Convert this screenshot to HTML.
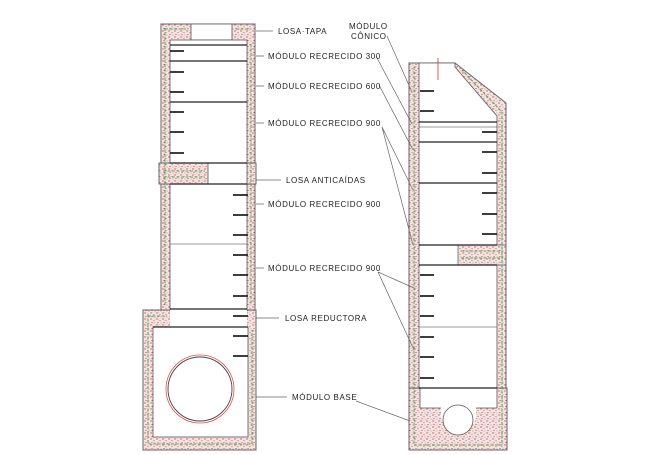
<!DOCTYPE html>
<html><head><meta charset="utf-8"><style>
html,body{margin:0;padding:0;background:#fff;}
svg{display:block;}
text{font-family:"Liberation Sans",sans-serif;font-size:8px;fill:#222;letter-spacing:0.6px;}
</style></head><body>
<svg width="648" height="455" viewBox="0 0 648 455" xmlns="http://www.w3.org/2000/svg">
<defs>
<pattern id="c" width="6" height="6" patternUnits="userSpaceOnUse">
<rect width="6" height="6" fill="#f5e6e6"/>
<circle cx="1" cy="1" r="0.7" fill="#d04848"/>
<circle cx="4" cy="2.5" r="0.6" fill="#e06060"/>
<circle cx="2" cy="4.5" r="0.6" fill="#c84848"/>
<circle cx="5" cy="5" r="0.5" fill="#888"/>
<circle cx="3" cy="0.5" r="0.4" fill="#aaa"/>
</pattern>
</defs>
<g stroke="#666" stroke-width="1" fill="url(#c)">
<rect x="161" y="24" width="94" height="287"/>
<rect x="143" y="310" width="113" height="140"/>
<rect x="159" y="163" width="97" height="21"/>
</g>
<g fill="#fff" stroke="#555" stroke-width="0.8">
<rect x="191" y="24" width="41" height="16"/>
<rect x="170" y="40" width="77" height="123"/>
<rect x="208" y="163" width="39" height="21"/>
<rect x="170" y="184" width="77" height="127"/>
<rect x="170" y="310" width="77" height="17" stroke="none"/>
<rect x="153" y="327" width="95" height="110"/>
</g>
<g stroke="#2a9a2a" stroke-width="0.8" stroke-dasharray="3,1.5" fill="none">
<path d="M165 28V305M251 44V305M148 314V444H252V330M148 316H167M163 171H205M163 177H205M165 29H187M236 29H251"/>
</g>
<g stroke="#222" stroke-width="1.3" fill="none">
<path d="M170 45H247M170 61H247M170 102H247M170 163H247M170 184H247M170 309H247M153 327H248"/>
</g>
<path d="M170 244H247" stroke="#777" stroke-width="0.7"/>
<circle cx="200" cy="389" r="34" fill="none" stroke="#e05050" stroke-width="0.8"/>
<circle cx="200" cy="389" r="32" fill="#fff" stroke="#444" stroke-width="0.9"/>
<g stroke="#222" stroke-width="1.8">
<path d="M170 51H184M170 72H184M170 92H184M170 112H184M170 132H184M170 153H184"/>
<path d="M233 195H248M233 215H248M233 235H248M233 255H248M233 275H248M233 296H248M233 316H248M233 336H248M233 356H248"/>
</g>
<g stroke="#666" stroke-width="1" fill="url(#c)">
<path d="M409 63H455L506 103V388H409Z"/>
<rect x="409" y="388" width="98" height="62"/>
</g>
<g fill="#fff" stroke="#555" stroke-width="0.8">
<path d="M419 63H455V67L497 116V388H419Z"/>
<path d="M420 388H497V408H476V418A18 18 0 0 1 441 418V408H420Z" stroke="none"/>
<path d="M420 408H441M476 408H497M420 388V408M497 388V408" fill="none"/>
<circle cx="458" cy="420" r="15"/>
</g>
<rect x="458" y="245" width="48" height="20" fill="url(#c)" stroke="#666" stroke-width="0.8"/>
<g stroke="#2a9a2a" stroke-width="0.8" stroke-dasharray="3,1.5" fill="none">
<path d="M414 67V445H502V112L462 70M461 251H503M461 258H503"/>
</g>
<g stroke="#222" stroke-width="1.3" fill="none">
<path d="M419 122H497M419 142H497M419 183H497M419 245H497M419 265H497M419 388H497"/>
</g>
<path d="M419 127H497M419 327H497" stroke="#777" stroke-width="0.7"/>
<path d="M438 58V80" stroke="#e03030" stroke-width="0.8"/>
<g stroke="#222" stroke-width="1.8">
<path d="M420 91H434M420 111H434"/>
<path d="M482 132H497M482 152H497M482 173H497M482 193H497M482 214H497M482 234H497"/>
<path d="M420 275H434M420 296H434M420 316H434M420 337H434M420 357H434M420 378H434"/>
</g>
<g stroke="#666" stroke-width="0.7" fill="none">
<path d="M256 31H273M256 56H264M256 86H264M256 123H264M256 180H281M256 204H264M256 268H264M256 318H279M256 397H287"/>
<path d="M387 36L412 92M376 56L412 124M379 85L413 150M382 127L413 190M382 127L413 245M378 272L414 288M378 272L414 350M356 401L410 421"/>
</g>
<text x="278" y="34">LOSA·TAPA</text>
<text x="268" y="59">MÓDULO  RECRECIDO  300</text>
<text x="268" y="89">MÓDULO  RECRECIDO  600</text>
<text x="268" y="126">MÓDULO  RECRECIDO  900</text>
<text x="286" y="183">LOSA  ANTICAÍDAS</text>
<text x="268" y="207">MÓDULO  RECRECIDO  900</text>
<text x="268" y="271">MÓDULO  RECRECIDO  900</text>
<text x="285" y="321">LOSA  REDUCTORA</text>
<text x="292" y="400">MÓDULO  BASE</text>
<text x="349" y="29">MÓDULO</text>
<text x="351" y="39">CÔNICO</text>
</svg>
</body></html>
